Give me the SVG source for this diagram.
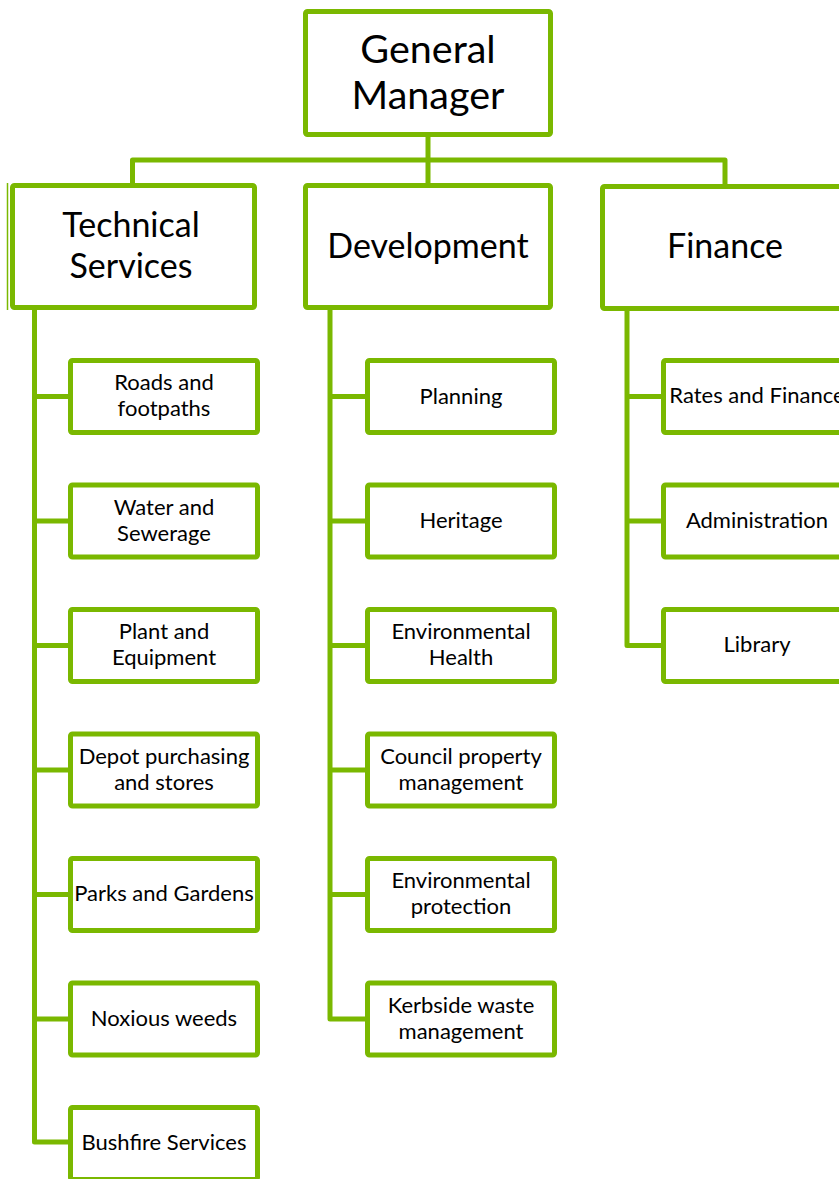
<svg xmlns="http://www.w3.org/2000/svg" width="839" height="1179" viewBox="0 0 839 1179">
  <style>
    .box { fill: #ffffff; stroke: #7ab800; stroke-width: 5; }
    .wire { fill: none; stroke: #7ab800; stroke-width: 5; stroke-linejoin: round; }
    text { font-family: Lato, "Open Sans", sans-serif; fill: #000000; text-anchor: middle; }
    .top { font-size: 39.5px; }
    .dept { font-size: 34px; }
    .unit { font-size: 22px; }
  </style>
  <rect width="839" height="1179" fill="#ffffff"/>

  <!-- connectors -->
  <g id="connectors">
    <path class="wire" d="M428 134 V160"/>
    <path class="wire" d="M132.5 186 V160 H725 V186 M428 160 V186"/>
    <!-- Technical Services spine -->
    <path class="wire" d="M34.5 308 V1142 H71"/>
    <path class="wire" d="M34.5 396.5 H71 M34.5 521 H71 M34.5 645.5 H71 M34.5 770 H71 M34.5 894.5 H71 M34.5 1019 H71"/>
    <!-- Development spine -->
    <path class="wire" d="M330 308 V1019 H368"/>
    <path class="wire" d="M330 396.5 H368 M330 521 H368 M330 645.5 H368 M330 770 H368 M330 894.5 H368"/>
    <!-- Finance spine -->
    <path class="wire" d="M627 308 V645.5 H664"/>
    <path class="wire" d="M627 396.5 H664 M627 521 H664"/>
  </g>

  <!-- top level -->
  <g id="general-manager">
    <rect class="box" x="305.5" y="11.5" width="245" height="123" rx="2"/>
    <text class="top" x="428" y="63">General</text>
    <text class="top" x="428" y="109">Manager</text>
  </g>

  <!-- departments -->
  <g id="technical-services">
    <line x1="7.5" y1="183" x2="7.5" y2="310" stroke="#7ab800" stroke-width="1.5"/>
    <rect class="box" x="12.5" y="185.5" width="242" height="122" rx="2"/>
    <text class="dept" x="131" y="237">Technical</text>
    <text class="dept" x="131" y="278">Services</text>
  </g>
  <g id="development">
    <rect class="box" x="305.5" y="185.5" width="245" height="122" rx="2"/>
    <text class="dept" x="428" y="258">Development</text>
  </g>
  <g id="finance">
    <rect class="box" x="602.5" y="186.5" width="245" height="122" rx="2"/>
    <text class="dept" x="725" y="258">Finance</text>
  </g>

  <!-- Technical Services units -->
  <g id="roads-and-footpaths">
    <rect class="box" x="70.5" y="360.5" width="187" height="72" rx="2"/>
    <text class="unit" x="164" y="390">Roads and</text>
    <text class="unit" x="164" y="416">footpaths</text>
  </g>
  <g id="water-and-sewerage">
    <rect class="box" x="70.5" y="485" width="187" height="72" rx="2"/>
    <text class="unit" x="164" y="514.5">Water and</text>
    <text class="unit" x="164" y="540.5">Sewerage</text>
  </g>
  <g id="plant-and-equipment">
    <rect class="box" x="70.5" y="609.5" width="187" height="72" rx="2"/>
    <text class="unit" x="164" y="639">Plant and</text>
    <text class="unit" x="164" y="665">Equipment</text>
  </g>
  <g id="depot-purchasing">
    <rect class="box" x="70.5" y="734" width="187" height="72" rx="2"/>
    <text class="unit" x="164" y="763.5">Depot purchasing</text>
    <text class="unit" x="164" y="789.5">and stores</text>
  </g>
  <g id="parks-and-gardens">
    <rect class="box" x="70.5" y="858.5" width="187" height="72" rx="2"/>
    <text class="unit" x="164" y="901">Parks and Gardens</text>
  </g>
  <g id="noxious-weeds">
    <rect class="box" x="70.5" y="983" width="187" height="72" rx="2"/>
    <text class="unit" x="164" y="1025.5">Noxious weeds</text>
  </g>
  <g id="bushfire-services">
    <rect class="box" x="70.5" y="1107.5" width="187" height="72" rx="2"/>
    <text class="unit" x="164" y="1150">Bushfire Services</text>
  </g>

  <!-- Development units -->
  <g id="planning">
    <rect class="box" x="367.5" y="360.5" width="187" height="72" rx="2"/>
    <text class="unit" x="461" y="404">Planning</text>
  </g>
  <g id="heritage">
    <rect class="box" x="367.5" y="485" width="187" height="72" rx="2"/>
    <text class="unit" x="461" y="527.5">Heritage</text>
  </g>
  <g id="environmental-health">
    <rect class="box" x="367.5" y="609.5" width="187" height="72" rx="2"/>
    <text class="unit" x="461" y="639">Environmental</text>
    <text class="unit" x="461" y="665">Health</text>
  </g>
  <g id="council-property">
    <rect class="box" x="367.5" y="734" width="187" height="72" rx="2"/>
    <text class="unit" x="461" y="763.5">Council property</text>
    <text class="unit" x="461" y="789.5">management</text>
  </g>
  <g id="environmental-protection">
    <rect class="box" x="367.5" y="858.5" width="187" height="72" rx="2"/>
    <text class="unit" x="461" y="888">Environmental</text>
    <text class="unit" x="461" y="914">protection</text>
  </g>
  <g id="kerbside-waste">
    <rect class="box" x="367.5" y="983" width="187" height="72" rx="2"/>
    <text class="unit" x="461" y="1012.5">Kerbside waste</text>
    <text class="unit" x="461" y="1038.5">management</text>
  </g>

  <!-- Finance units -->
  <g id="rates-and-finance">
    <rect class="box" x="663.5" y="360.5" width="187" height="72" rx="2"/>
    <text class="unit" x="757" y="403">Rates and Finance</text>
  </g>
  <g id="administration">
    <rect class="box" x="663.5" y="485" width="187" height="72" rx="2"/>
    <text class="unit" x="757" y="527.5">Administration</text>
  </g>
  <g id="library">
    <rect class="box" x="663.5" y="609.5" width="187" height="72" rx="2"/>
    <text class="unit" x="757" y="652">Library</text>
  </g>
</svg>
